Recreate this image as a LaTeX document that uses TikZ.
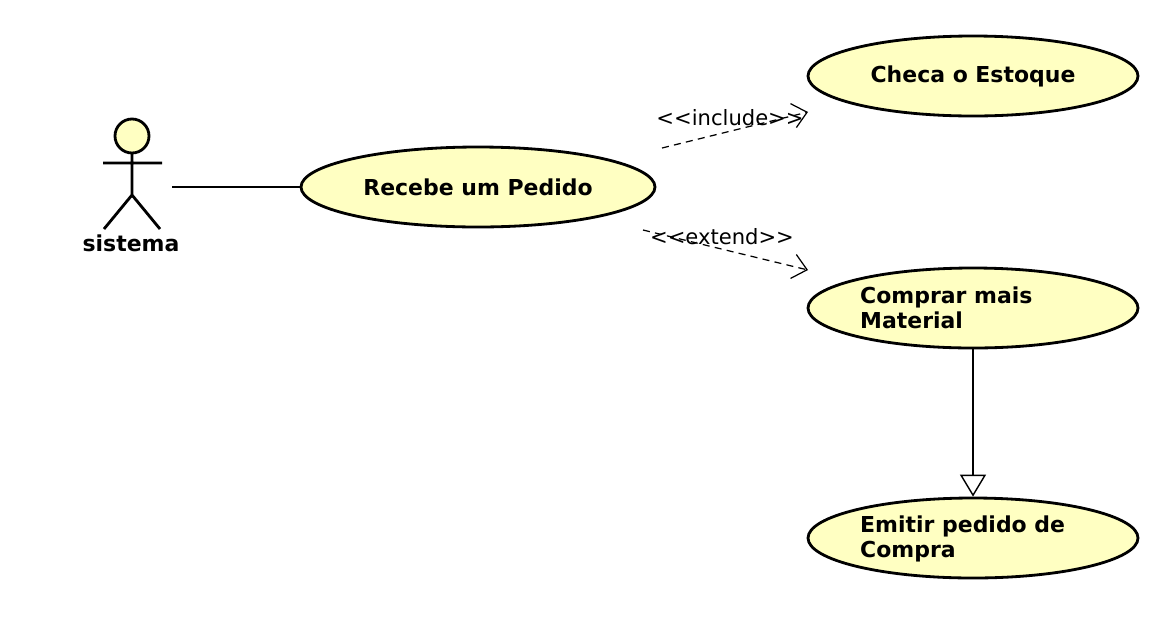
\documentclass[tikz,border=0pt]{standalone}
\usepackage{fontspec}
\setmainfont{DejaVu Sans}
\usetikzlibrary{arrows.meta,shapes.geometric}
\begin{document}
\begin{tikzpicture}[x=0.02cm,y=-0.02cm,
 uc/.style={ellipse,draw,line width=1.6pt,fill=ucfill,minimum width=330*0.02cm,minimum height=80*0.02cm,inner sep=0pt,font=\fontsize{12.5}{14}\selectfont\bfseries},
 dep/.style={dashed,dash pattern=on 4pt off 3pt,line width=0.7pt,-{Straight Barb[length=8pt,width=14pt]}},
 lbl/.style={font=\fontsize{12}{13}\selectfont}]
\definecolor{ucfill}{HTML}{FFFFC2}
\useasboundingbox (0,0) rectangle (1166,616);
% actor
\draw[line width=1.6pt,fill=ucfill] (132,136) circle[radius=17*0.02cm];
\draw[line width=1.6pt] (132,153)--(132,195) (103,163)--(162,163) (104,229)--(132,195)--(160,229);
\node[font=\fontsize{12.5}{14}\selectfont\bfseries] (act) at (131,243) {sistema};
\coordinate (actR) at (172,187);
% use cases
\node[uc,minimum width=354*0.02cm] (rec) at (478,187) {Recebe um Pedido};
\node[uc] (che) at (973,76) {Checa o Estoque};
\node[uc] (com) at (973,308) {};
\node[uc] (emi) at (973,538) {};
\node[font=\fontsize{12.5}{14}\selectfont\bfseries,align=left,anchor=west] at (854,308) {Comprar mais\\Material};
\node[font=\fontsize{12.5}{14}\selectfont\bfseries,align=left,anchor=west] at (854,539) {Emitir pedido de\\Compra};
% connectors
\draw[line width=0.8pt] (actR) -- (rec.west);
\coordinate (i0) at (662,148); \coordinate (i1) at (808,112);
\draw[dep] (i0) -- (i1);
\node[lbl] at (730,118) {{<}{<}include{>}{>}};
\coordinate (e0) at (643,230); \coordinate (e1) at (808,270);
\draw[dep] (e0) -- (e1);
\node[lbl] at (722,237) {{<}{<}extend{>}{>}};
\draw[line width=0.8pt,-{Triangle[open,length=22*0.02cm,width=26*0.02cm]}] (com.south) -- (emi.north);
\end{tikzpicture}
\end{document}
